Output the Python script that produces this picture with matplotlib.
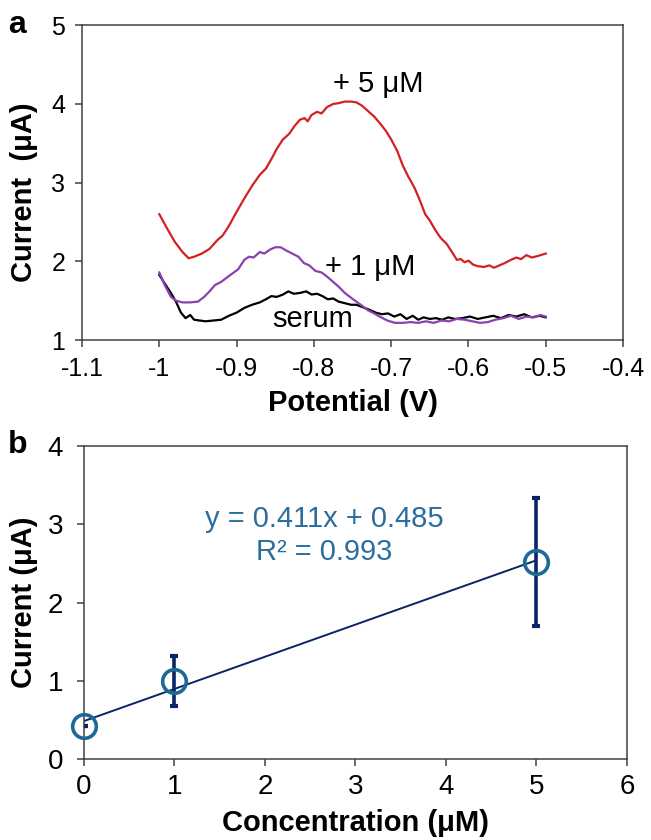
import matplotlib
matplotlib.use("Agg")
import matplotlib.pyplot as plt

plt.rcParams["font.family"] = ["Liberation Sans", "DejaVu Sans"]

# ── data: panel a (DPV curves) ────────────────────────────────────────────────
red_x = [-1.000, -0.990, -0.980, -0.970, -0.962, -0.955, -0.945, -0.935, -0.925, -0.918,
         -0.910, -0.900, -0.890, -0.880, -0.870, -0.862, -0.855, -0.848, -0.840, -0.832,
         -0.825, -0.818, -0.812, -0.808, -0.803, -0.796, -0.790, -0.783, -0.775, -0.768,
         -0.760, -0.752, -0.745, -0.738, -0.730, -0.722, -0.715, -0.707, -0.700, -0.692,
         -0.685, -0.678, -0.670, -0.663, -0.656, -0.650, -0.643, -0.636, -0.628, -0.620,
         -0.615, -0.610, -0.605, -0.600, -0.594, -0.588, -0.580, -0.573, -0.567, -0.560,
         -0.553, -0.545, -0.538, -0.532, -0.525, -0.518, -0.510, -0.500]
red_y = [2.60, 2.42, 2.25, 2.12, 2.04, 2.06, 2.10, 2.16, 2.27, 2.33,
         2.45, 2.63, 2.80, 2.96, 3.10, 3.18, 3.30, 3.43, 3.55, 3.62,
         3.72, 3.80, 3.82, 3.78, 3.86, 3.90, 3.88, 3.96, 4.00, 4.01,
         4.03, 4.03, 4.02, 3.98, 3.91, 3.84, 3.76, 3.66, 3.55, 3.40,
         3.22, 3.08, 2.94, 2.78, 2.60, 2.52, 2.40, 2.30, 2.22, 2.10,
         2.02, 2.03, 1.99, 2.01, 1.96, 1.94, 1.93, 1.95, 1.92, 1.95,
         1.98, 2.02, 2.05, 2.03, 2.08, 2.05, 2.07, 2.10]

purple_x = [-1.000, -0.993, -0.985, -0.978, -0.970, -0.960, -0.950, -0.942, -0.935, -0.928,
            -0.920, -0.912, -0.905, -0.898, -0.890, -0.884, -0.878, -0.870, -0.864, -0.857,
            -0.850, -0.843, -0.836, -0.828, -0.820, -0.813, -0.806, -0.798, -0.790, -0.782,
            -0.775, -0.768, -0.760, -0.752, -0.745, -0.738, -0.730, -0.722, -0.715, -0.705,
            -0.695, -0.685, -0.675, -0.665, -0.655, -0.645, -0.635, -0.625, -0.615, -0.605,
            -0.595, -0.585, -0.575, -0.565, -0.555, -0.545, -0.535, -0.525, -0.515, -0.507,
            -0.500]
purple_y = [1.86, 1.70, 1.55, 1.50, 1.48, 1.48, 1.49, 1.55, 1.62, 1.70,
            1.74, 1.80, 1.85, 1.90, 2.02, 2.06, 2.05, 2.12, 2.10, 2.15,
            2.18, 2.18, 2.14, 2.10, 2.06, 1.98, 1.95, 1.88, 1.86, 1.80,
            1.74, 1.68, 1.60, 1.54, 1.49, 1.44, 1.38, 1.34, 1.30, 1.25,
            1.22, 1.22, 1.23, 1.22, 1.24, 1.22, 1.25, 1.24, 1.27, 1.26,
            1.24, 1.22, 1.23, 1.26, 1.28, 1.31, 1.27, 1.30, 1.29, 1.32,
            1.30]

serum_x = [-1.000, -0.993, -0.985, -0.978, -0.972, -0.966, -0.960, -0.955, -0.948, -0.940,
           -0.930, -0.920, -0.910, -0.900, -0.890, -0.880, -0.870, -0.862, -0.855, -0.848,
           -0.840, -0.833, -0.826, -0.818, -0.810, -0.803, -0.796, -0.789, -0.782, -0.775,
           -0.768, -0.760, -0.752, -0.745, -0.737, -0.729, -0.720, -0.712, -0.704, -0.696,
           -0.688, -0.680, -0.672, -0.665, -0.658, -0.650, -0.642, -0.634, -0.626, -0.618,
           -0.608, -0.598, -0.588, -0.578, -0.568, -0.558, -0.548, -0.538, -0.528, -0.518,
           -0.508, -0.500]
serum_y = [1.83, 1.72, 1.60, 1.48, 1.35, 1.28, 1.32, 1.26, 1.25, 1.24,
           1.25, 1.26, 1.31, 1.35, 1.41, 1.45, 1.48, 1.52, 1.56, 1.55,
           1.58, 1.62, 1.59, 1.60, 1.62, 1.58, 1.59, 1.56, 1.52, 1.53,
           1.49, 1.47, 1.45, 1.45, 1.42, 1.39, 1.35, 1.33, 1.34, 1.30,
           1.33, 1.27, 1.31, 1.26, 1.29, 1.27, 1.28, 1.26, 1.29, 1.27,
           1.28, 1.30, 1.27, 1.29, 1.31, 1.28, 1.32, 1.30, 1.33, 1.29,
           1.31, 1.29]

A_XTICKS = [-1.1, -1.0, -0.9, -0.8, -0.7, -0.6, -0.5, -0.4]
A_XTICKLABELS = ["-1.1", "-1", "-0.9", "-0.8", "-0.7", "-0.6", "-0.5", "-0.4"]
A_YTICKS = [1, 2, 3, 4, 5]

# ── data: panel b (calibration) ───────────────────────────────────────────────
conc = [0, 1, 5]
current = [0.42, 1.00, 2.52]
current_err = [0.0, 0.32, 0.82]
slope, intercept = 0.411, 0.485
B_XTICKS = [0, 1, 2, 3, 4, 5, 6]
B_YTICKS = [0, 1, 2, 3, 4]

SPINE = "#404040"
NAVY = "#0b2466"
BLUE = "#1c6996"
TXT_BLUE = "#2b6e9e"

fig = plt.figure(figsize=(6.51, 8.40), dpi=100)


def style_axes(ax, fs):
    for s in ax.spines.values():
        s.set_color(SPINE)
        s.set_linewidth(1.1)
    ax.tick_params(direction="out", length=5, width=1.1, color=SPINE,
                   labelsize=fs, pad=7, top=False, right=False)


# ── panel a ───────────────────────────────────────────────────────────────────
ax1 = fig.add_axes([0.126, 0.595, 0.831, 0.375])
ax1.plot(red_x, red_y, color="#d42020", lw=1.6)
ax1.plot(serum_x, serum_y, color="black", lw=1.6)
ax1.plot(purple_x, purple_y, color="#8e3fb0", lw=1.6)
ax1.set_xlim(-1.1, -0.4)
ax1.set_ylim(1, 5)
ax1.set_xticks(A_XTICKS)
ax1.set_xticklabels(A_XTICKLABELS)
ax1.set_yticks(A_YTICKS)
style_axes(ax1, 18)
ax1.set_xlabel("Potential (V)", fontsize=21, fontweight="bold")
ax1.set_ylabel("Current  (\u03bcA)", fontsize=21, fontweight="bold")
ax1.xaxis.set_label_coords(0.5, -0.20)
ax1.xaxis.label.set_va("center")
ax1.yaxis.set_label_coords(-0.107, 0.47)
ax1.yaxis.label.set_va("center")
ax1.text(-0.717, 4.15, "+ 5 \u03bcM", fontsize=21, ha="center", va="baseline")
ax1.text(-0.727, 1.83, "+ 1 \u03bcM", fontsize=21, ha="center", va="baseline")
ax1.text(-0.802, 1.165, "serum", fontsize=21, ha="center", va="baseline")
fig.text(0.012, 0.988, "a", fontsize=23, fontweight="bold", va="top")

# ── panel b ───────────────────────────────────────────────────────────────────
ax2 = fig.add_axes([0.129, 0.0964, 0.834, 0.3726])
ax2.plot([0, 5], [intercept, slope * 5 + intercept], color=NAVY, lw=1.4, zorder=2)
ax2.errorbar(conc, current, yerr=current_err, fmt="none", ecolor=NAVY,
             elinewidth=2.6, capsize=3, capthick=3, zorder=3)
ax2.plot(conc, current, "o", ms=17, mfc="none", mec=BLUE, mew=2.6, zorder=4,
         clip_on=False)
ax2.set_xlim(0, 6)
ax2.set_ylim(0, 4)
ax2.set_xticks(B_XTICKS)
ax2.set_yticks(B_YTICKS)
style_axes(ax2, 20)
ax2.tick_params(axis="y", pad=10)
ax2.tick_params(axis="x", pad=6)
ax2.set_xlabel("Concentration (\u03bcM)", fontsize=21, fontweight="bold")
ax2.set_ylabel("Current (\u03bcA)", fontsize=21, fontweight="bold")
ax2.xaxis.set_label_coords(0.5, -0.205)
ax2.xaxis.label.set_va("center")
ax2.yaxis.set_label_coords(-0.11, 0.5)
ax2.yaxis.label.set_va("center")
ax2.text(2.66, 2.965, f"y = {slope}x + {intercept}", fontsize=21, color=TXT_BLUE,
         ha="center", va="baseline")
ax2.text(2.66, 2.54, "R\u00b2 = 0.993", fontsize=21, color=TXT_BLUE,
         ha="center", va="baseline")
fig.text(0.012, 0.488, "b", fontsize=23, fontweight="bold", va="top")

fig.savefig("out.png", dpi=100)
